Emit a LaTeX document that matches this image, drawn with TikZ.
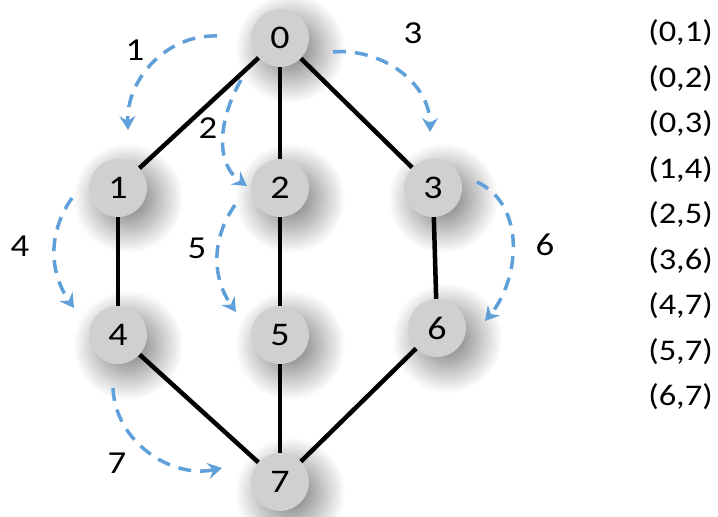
\documentclass[tikz,border=0pt]{standalone}
\usepackage{fontspec}
\usepackage{graphicx}
\setmainfont{Carlito}
\usetikzlibrary{arrows.meta,fadings}
\definecolor{arrblue}{RGB}{95,160,218}
\definecolor{vfill}{RGB}{208,208,208}
\newcommand{\sx}[1]{\scalebox{1.15}[1]{#1}}
\tikzfading[name=softdisc, inner color=transparent!0, outer color=transparent!100]
\begin{document}
\begin{tikzpicture}[x=1pt,y=1pt,
  vtx/.style={circle,minimum size=58pt,inner sep=0pt,fill=vfill,
    font=\fontsize{33}{33}\selectfont},
  edge/.style={line width=4.5pt,black},
  trav/.style={line width=3.5pt,arrblue,dash pattern=on 13pt off 9pt,
    -{Stealth[length=14pt,width=16pt,inset=5pt]}},
  lbl/.style={font=\fontsize{32}{32}\selectfont,inner sep=0pt},
  lst/.style={font=\fontsize{30}{30}\selectfont,inner sep=0pt,anchor=east},
  shd/.style={fill=black,fill opacity=0.55,path fading=softdisc}]
\useasboundingbox (0,0) rectangle (718,517);
\fill[white] (0,0) rectangle (718,517);
% soft shadows
\foreach \p in {(280,479),(118,329),(280,329),(433,329),(118,182),(280,182),(437,189),(280,35)}
  \fill[shd] \p ++(10,-10) circle (55pt);
% vertices
\node[vtx] (n0) at (280,479) {\sx{0}};
\node[vtx] (n1) at (118,329) {\sx{1}};
\node[vtx] (n2) at (280,329) {\sx{2}};
\node[vtx] (n3) at (433,329) {\sx{3}};
\node[vtx] (n4) at (118,182) {\sx{4}};
\node[vtx] (n5) at (280,182) {\sx{5}};
\node[vtx] (n6) at (437,189) {\sx{6}};
\node[vtx] (n7) at (280,35) {\sx{7}};
% edges
\draw[edge] (n0) -- (n1);
\draw[edge] (n0) -- (n2);
\draw[edge] (n0) -- (n3);
\draw[edge] (n1) -- (n4);
\draw[edge] (n2) -- (n5);
\draw[edge] (n3) -- (n6);
\draw[edge] (n4) -- (n7);
\draw[edge] (n5) -- (n7);
\draw[edge] (n6) -- (n7);
% traversal arrows
\coordinate (s1) at (217,481); \coordinate (e1) at (128,387);
\coordinate (s2) at (241,437); \coordinate (e2) at (247,331);
\coordinate (s3) at (333,465); \coordinate (e3) at (430,385);
\coordinate (s4) at (72,319);  \coordinate (e4) at (74,209);
\coordinate (s5) at (235,312); \coordinate (e5) at (236,205);
\coordinate (s6) at (477,335); \coordinate (e6) at (485,196);
\coordinate (s7) at (113,129); \coordinate (e7) at (222,49);
\draw[trav] (s1) to[out=178,in=92] (e1);
\draw[trav] (s2) to[out=240,in=145] (e2);
\draw[trav] (s3) to[out=5,in=90] (e3);
\draw[trav] (s4) to[out=235,in=125] (e4);
\draw[trav] (s5) to[out=235,in=125] (e5);
\draw[trav] (s6) to[out=-25,in=50] (e6);
\draw[trav] (s7) to[out=272,in=192] (e7);
% labels
\node[lbl] (l1) at (135,467) {\sx{1}};
\node[lbl] (l2) at (208,389) {\sx{2}};
\node[lbl] (l3) at (413,484) {\sx{3}};
\node[lbl] (l4) at (20,271) {\sx{4}};
\node[lbl] (l5) at (197,269) {\sx{5}};
\node[lbl] (l6) at (545,272) {\sx{6}};
\node[lbl] (l7) at (117,54) {\sx{7}};
% edge list
\node[lst] (r1) at (713,484) {\sx{(0,1)}};
\node[lst] (r2) at (713,438.5) {\sx{(0,2)}};
\node[lst] (r3) at (713,393) {\sx{(0,3)}};
\node[lst] (r4) at (713,347.5) {\sx{(1,4)}};
\node[lst] (r5) at (713,302) {\sx{(2,5)}};
\node[lst] (r6) at (713,256.5) {\sx{(3,6)}};
\node[lst] (r7) at (713,211) {\sx{(4,7)}};
\node[lst] (r8) at (713,165.5) {\sx{(5,7)}};
\node[lst] (r9) at (713,120) {\sx{(6,7)}};
\end{tikzpicture}
\end{document}
